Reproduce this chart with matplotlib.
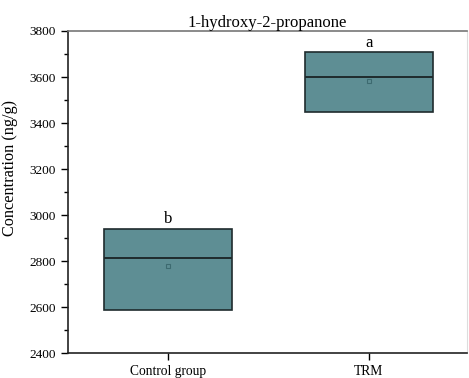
import numpy as np
import matplotlib.pyplot as plt
from matplotlib.ticker import MultipleLocator

plt.rcParams['font.family'] = ['Liberation Serif', 'DejaVu Serif']

# Box statistics (ng/g)
groups = ['Control group', 'TRM']
q1 = [2586, 3448]
median = [2813, 3599]
q3 = [2939, 3707]
mean = [2778, 3584]
letters = ['b', 'a']

box_color = '#5e8e94'
edge_color = '#1f2b2d'

fig = plt.figure(figsize=(4.69, 3.78), dpi=100)
ax = fig.add_axes([0.145, 0.066, 0.851, 0.852])

stats = []
for i, g in enumerate(groups):
    stats.append({'label': g, 'q1': q1[i], 'med': median[i], 'q3': q3[i],
                  'mean': mean[i], 'whislo': q1[i], 'whishi': q3[i], 'fliers': []})

pos = np.arange(1, len(groups) + 1)
ax.bxp(stats, positions=pos, widths=0.64, patch_artist=True, showmeans=True,
       showcaps=False,
       boxprops=dict(facecolor=box_color, edgecolor=edge_color, linewidth=1.2),
       medianprops=dict(color=edge_color, linewidth=1.4),
       whiskerprops=dict(linewidth=0),
       meanprops=dict(marker='s', markersize=3.5, markerfacecolor='none',
                      markeredgecolor='#3d6a70', markeredgewidth=0.8))

# significance letters above each box
for p, top, lt in zip(pos, q3, letters):
    ax.text(p, top + 8, lt, ha='center', va='bottom', fontsize=12)

ax.set_xlim(0.5, 2.49)
ax.set_ylim(2400, 3800)
ax.yaxis.set_major_locator(MultipleLocator(200))
ax.yaxis.set_minor_locator(MultipleLocator(100))
ax.set_xticks(pos)
ax.set_xticklabels(groups)
ax.tick_params(axis='y', which='major', length=5, width=1, labelsize=9.5, direction='out')
ax.tick_params(axis='y', which='minor', length=3, width=1, direction='out')
ax.tick_params(axis='x', length=5, width=1, labelsize=9.75, direction='out')

ax.set_ylabel('Concentration (ng/g)', fontsize=11.7, labelpad=3)
ax.yaxis.set_label_coords(-0.125, 0.575)
ax.set_title('1-hydroxy-2-propanone', fontsize=12, pad=1)

for s in ['left', 'bottom']:
    ax.spines[s].set_linewidth(1.2)
    ax.spines[s].set_color('#222222')
ax.spines['top'].set_color('#777777')
ax.spines['top'].set_linewidth(1.2)
ax.spines['right'].set_color('#dddddd')
ax.spines['right'].set_linewidth(0.8)

plt.savefig('out.png', dpi=100)
plt.close()
